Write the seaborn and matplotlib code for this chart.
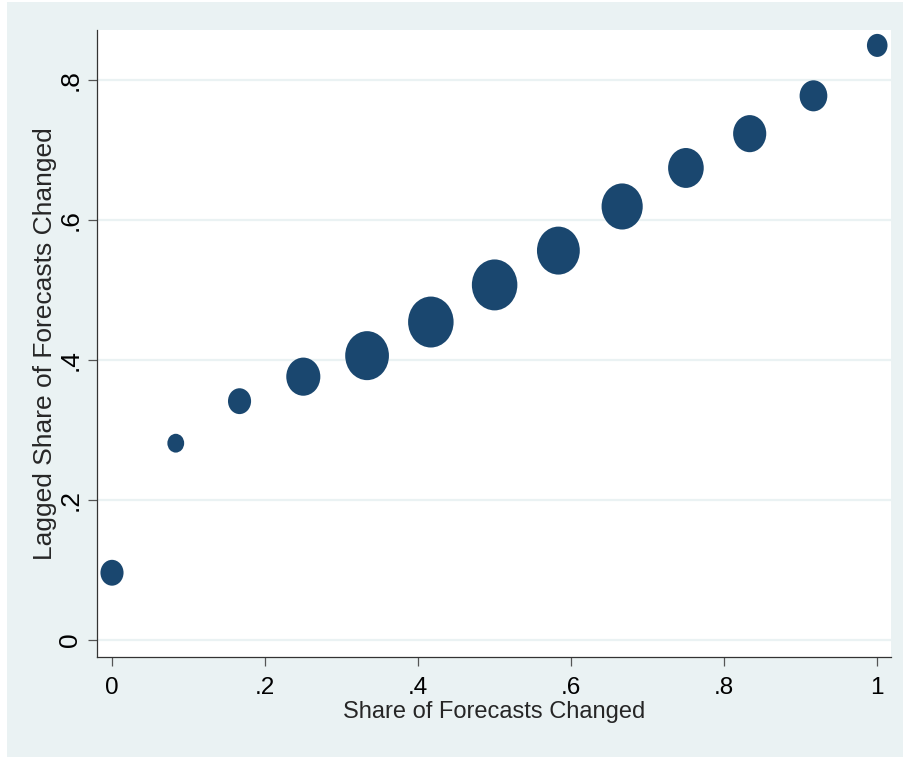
import numpy as np
import pandas as pd
import matplotlib
matplotlib.use('Agg')
import matplotlib.pyplot as plt
from matplotlib.path import Path
from matplotlib.transforms import Affine2D
from matplotlib.patches import Rectangle
import seaborn as sns

# share of forecasts changed (x), lagged share (y), share of obs in % (bubble weight)
share_changed = [0, 1/12, 2/12, 3/12, 4/12, 5/12, 6/12, 7/12, 8/12, 9/12, 10/12, 11/12, 1]
lagged_share = [0.096, 0.281, 0.341, 0.376, 0.406, 0.454, 0.507, 0.556, 0.619, 0.674, 0.723, 0.777, 0.849]
obs_pct = [3.4, 1.8, 3.4, 7.4, 12.2, 13.2, 13.2, 11.7, 10.8, 8.1, 7.0, 4.9, 2.7]

x_ticks = [0, 0.2, 0.4, 0.6, 0.8, 1]
x_ticklabels = ['0', '.2', '.4', '.6', '.8', '1']
y_ticks = [0, 0.2, 0.4, 0.6, 0.8]
y_ticklabels = ['0', '.2', '.4', '.6', '.8']

df = pd.DataFrame({'x': share_changed, 'y': lagged_share, 'w': obs_pct})

bg = '#EAF2F3'
navy = '#1A476F'

sns.set_style('white')
plt.rcParams['font.family'] = ['Liberation Sans', 'DejaVu Sans']

fig = plt.figure(figsize=(9.04, 7.57), dpi=100, facecolor='white')
# light stata-style background with thin white strip left/top
fig.patches.append(Rectangle((7 / 904, 0), 1, 1 - 2 / 757, transform=fig.transFigure,
                             facecolor=bg, edgecolor='none', zorder=-10))
ax = fig.add_axes([97 / 904, (757 - 657) / 757, (891 - 97) / 904, (657 - 30) / 757])
ax.set_facecolor('white')

# slightly tall ellipse marker, like the reference
ell = Affine2D().scale(1 / 1.12, 1).transform_path(Path.unit_circle())
sns.scatterplot(data=df, x='x', y='y', size='w',
                sizes=(102 * min(obs_pct), 102 * max(obs_pct)),
                size_norm=(min(obs_pct), max(obs_pct)),
                marker=ell, color=navy, linewidth=0, legend=False, ax=ax, zorder=3)

ax.set_xlim(-0.0196, 1.018)
ax.set_ylim(-0.0243, 0.871)
ax.set_xticks(x_ticks)
ax.set_xticklabels(x_ticklabels)
ax.set_yticks(y_ticks)
ax.set_yticklabels(y_ticklabels, rotation=90, va='center')
ax.grid(axis='y', color=bg, linewidth=1.6, zorder=0)
ax.grid(axis='x', visible=False)

for side in ['top', 'right']:
    ax.spines[side].set_visible(False)
for side in ['left', 'bottom']:
    ax.spines[side].set_color('#333333')
    ax.spines[side].set_linewidth(0.9)

ax.tick_params(axis='both', direction='out', length=6.5, width=0.9, color='#555555',
               labelcolor='black')
ax.tick_params(axis='x', bottom=True, labelsize=17.5, pad=8)
ax.tick_params(axis='y', left=True, labelsize=19, pad=4)

ax.set_xlabel('Share of Forecasts Changed', fontsize=17)
ax.set_ylabel('Lagged Share of Forecasts Changed', fontsize=19)
ax.xaxis.set_label_coords(0.5, -(712 - 657) / 627, transform=ax.transAxes)
ax.yaxis.set_label_coords(-(97 - 45) / 794, 0.5, transform=ax.transAxes)
ax.xaxis.label.set_va('center')
ax.yaxis.label.set_va('center')

fig.savefig('out.png', dpi=100, facecolor=fig.get_facecolor())
